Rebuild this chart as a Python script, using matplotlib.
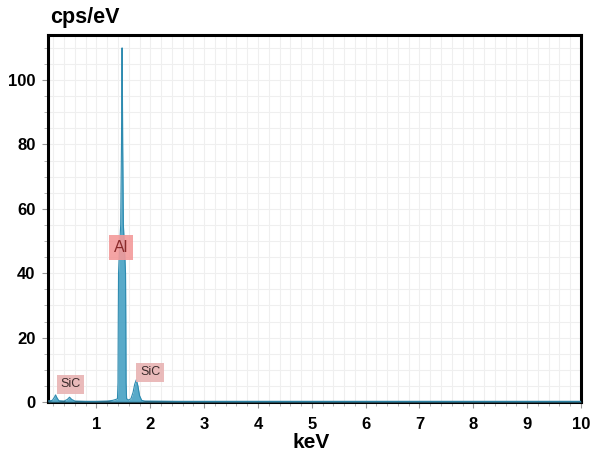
import matplotlib
matplotlib.use("Agg")
import matplotlib.pyplot as plt
from matplotlib.ticker import MultipleLocator

plt.rcParams['font.family'] = ['Liberation Sans', 'DejaVu Sans']

# Spectrum (energy in keV, counts in cps/eV)
energy_kev = [0.10, 0.18, 0.22, 0.24, 0.26, 0.30, 0.40, 0.46, 0.50, 0.54, 0.60,
              0.80, 1.00, 1.20, 1.30, 1.36, 1.39, 1.40, 1.405, 1.41, 1.43, 1.45,
              1.465, 1.472, 1.476, 1.480, 1.487, 1.50, 1.52, 1.54, 1.545, 1.55, 1.56,
              1.60, 1.64, 1.68, 1.71, 1.74, 1.77, 1.80, 1.84, 1.90, 2.5,
              4.0, 6.0, 8.0, 10.0]
counts = [0.3, 0.5, 1.5, 2.2, 1.5, 0.4, 0.3, 0.8, 1.5, 0.8, 0.3,
          0.2, 0.2, 0.3, 0.5, 0.8, 1.0, 6.0, 25.0, 40.0, 48.0, 55.0,
          80.0, 105.0, 110.0, 105.0, 80.0, 55.0, 48.0, 40.0, 25.0, 6.0, 1.0,
          0.6, 1.0, 3.0, 5.5, 6.9, 5.0, 2.0, 0.5, 0.3, 0.2,
          0.2, 0.2, 0.2, 0.2]

x_ticks = [1, 2, 3, 4, 5, 6, 7, 8, 9, 10]
y_ticks = [0, 20, 40, 60, 80, 100]

peak_labels = ["SiC", "Al", "SiC"]
peak_label_x = [0.52, 1.45, 2.0]
peak_label_y = [5.5, 48.0, 9.2]
peak_label_colors = ["#e8b3b3", "#f39a9a", "#e8b3b3"]
peak_text_colors = ["#3a2a2a", "#8a2a2a", "#3a2a2a"]

fig = plt.figure(figsize=(5.91, 4.59), dpi=100)
ax = fig.add_axes([48/591, 1-402/459, (581-48)/591, (402-35)/459])

ax.fill_between(energy_kev, counts, 0, color="#4fa6c6", alpha=0.95, zorder=3, linewidth=0)
ax.plot(energy_kev, counts, color="#2e8bb0", lw=0.8, zorder=4)

ax.set_xlim(0.1, 10.0)
ax.set_ylim(0, 114)

ax.xaxis.set_minor_locator(MultipleLocator(0.2))
ax.yaxis.set_minor_locator(MultipleLocator(5))
ax.grid(which='both', color='#efefef', lw=0.8, zorder=0)
ax.set_axisbelow(True)

ax.set_xticks(x_ticks)
ax.set_yticks(y_ticks)
ax.set_xticklabels([str(t) for t in x_ticks], fontsize=12, fontweight='bold')
ax.set_yticklabels([str(t) for t in y_ticks], fontsize=12, fontweight='bold')
ax.tick_params(which='major', direction='out', length=4, color='#999999', pad=7)
ax.tick_params(which='minor', direction='out', length=3, color='#aaaaaa')
ax.tick_params(axis='y', pad=5)

for s in ax.spines.values():
    s.set_linewidth(2.2)
    s.set_color('black')

for lab, lx, ly, bc, tc in zip(peak_labels, peak_label_x, peak_label_y,
                               peak_label_colors, peak_text_colors):
    fs = 11.5 if lab == "Al" else 9
    ax.text(lx, ly, lab, ha='center', va='center', fontsize=fs, color=tc, zorder=6,
            bbox=dict(boxstyle='square,pad=0.3', fc=bc, ec='none', alpha=0.9))

fig.text(50/591, 1-17/459, "cps/eV", fontsize=15.5, fontweight='bold', ha='left', va='center')
fig.text(311/591, 1-443/459, "keV", fontsize=15, fontweight='bold', ha='center', va='center')

fig.savefig("out.png", dpi=100)
